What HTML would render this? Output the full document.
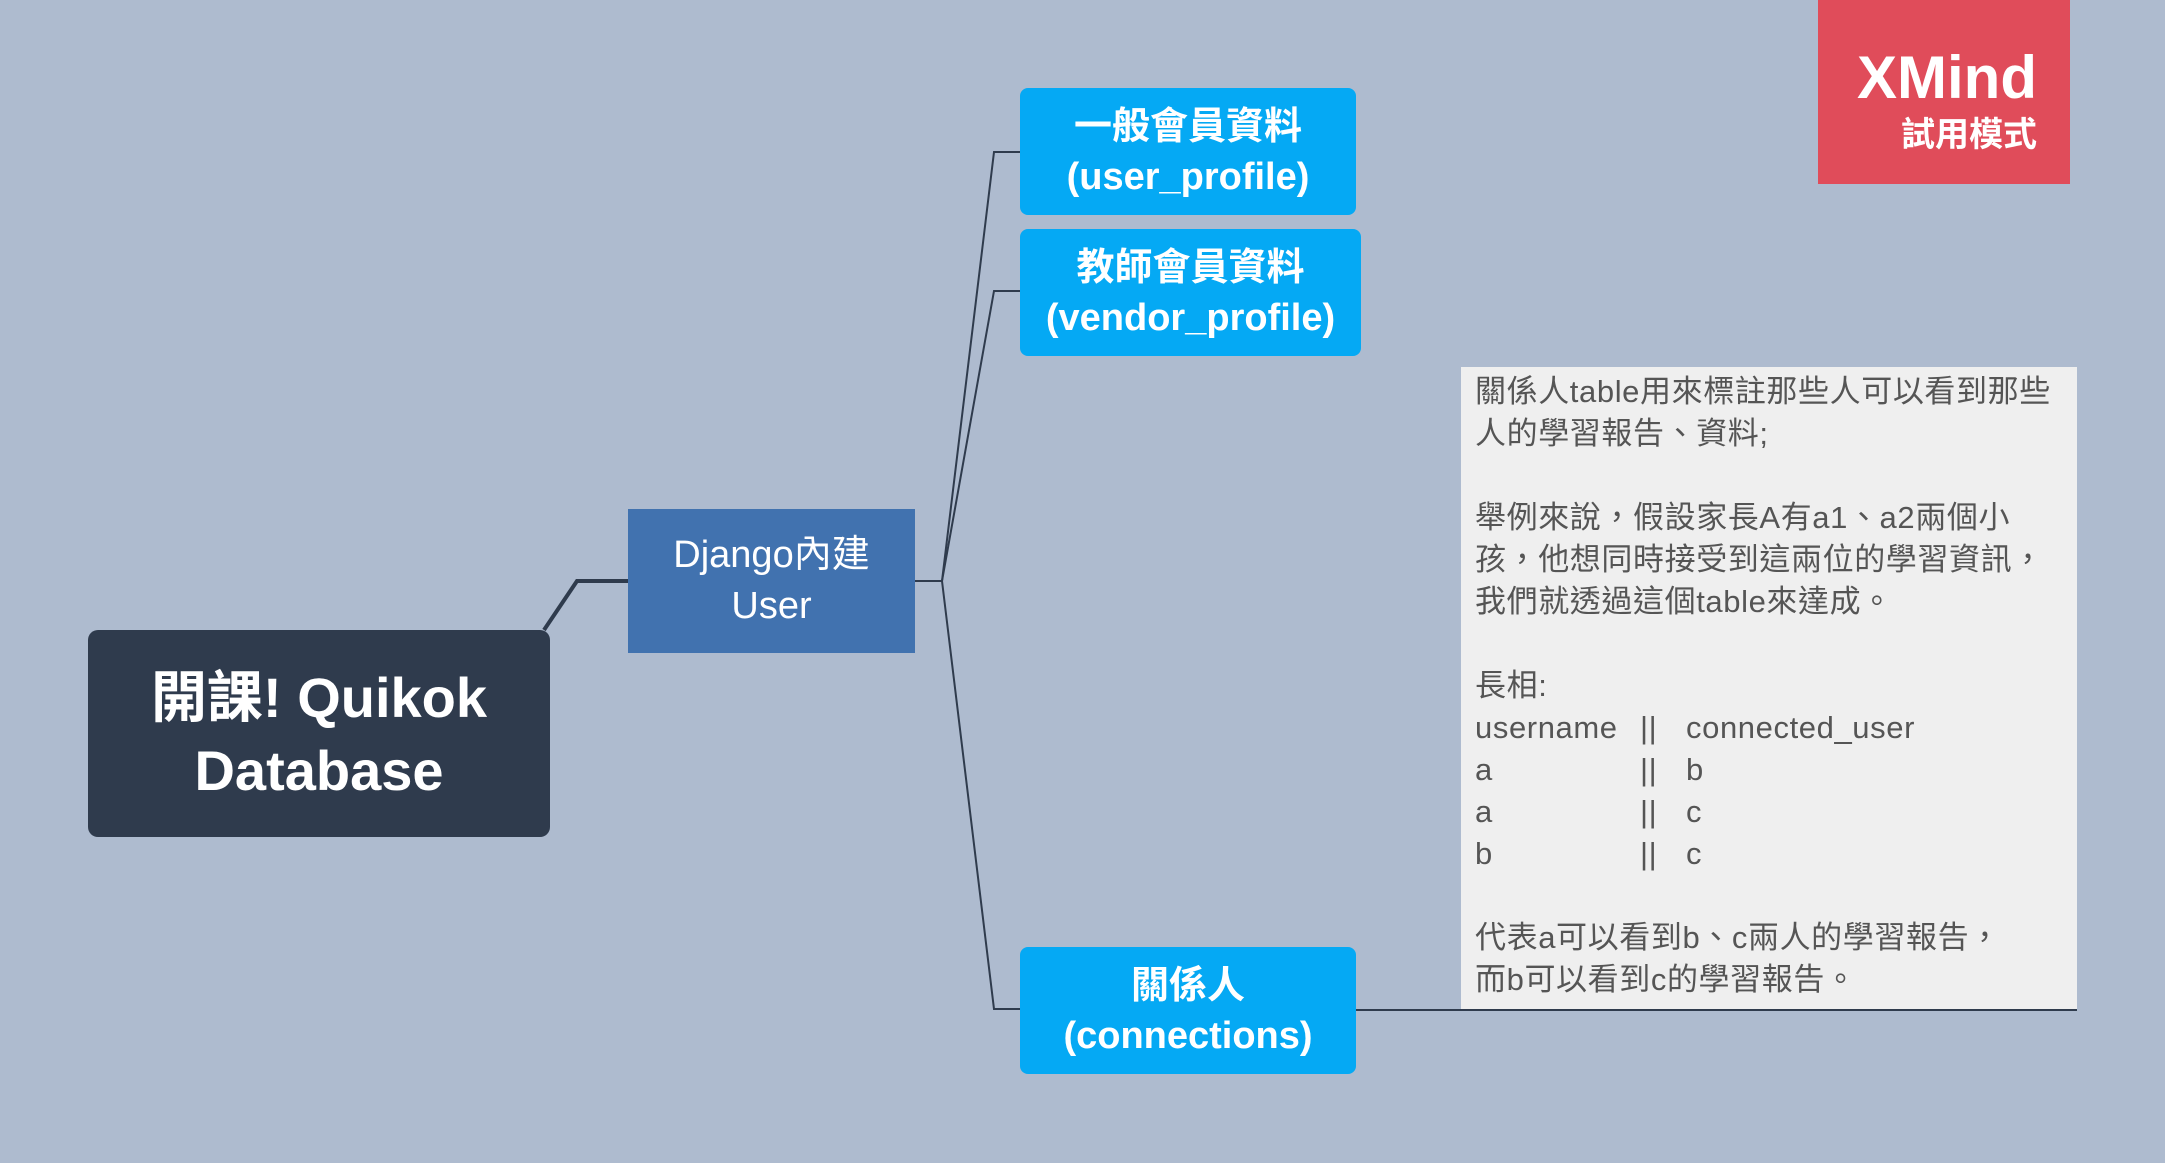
<!DOCTYPE html>
<html><head><meta charset="utf-8"><style>
body{margin:0;width:2165px;height:1163px;background:#aebbcf;position:relative;overflow:hidden;font-family:"Liberation Sans","Noto Sans CJK TC",sans-serif}
.n{position:absolute;display:flex;align-items:center;justify-content:center;text-align:center;color:#fff;box-sizing:border-box}
.b{background:#05a9f4;border-radius:8px;font-weight:bold;font-size:38px;line-height:50px}
.note{position:absolute;left:1461px;top:367px;width:616px;height:642px;background:#efefef;box-sizing:border-box;padding:4px 0 0 14px;color:#555;font-size:31px;letter-spacing:0.6px;line-height:42px;white-space:nowrap}
.c1{display:inline-block;width:165px}.c2{display:inline-block;width:46px}
</style></head><body>
<svg width="2165" height="1163" style="position:absolute;left:0;top:0">
<g fill="none" stroke="#2f3b4d" stroke-width="2">
<polyline points="544,630 577,581 628,581" stroke-width="4"/>
<polyline points="915,581 942,581"/>
<polyline points="942,581 994,152 1020,152"/>
<polyline points="942,581 994,291 1020,291"/>
<polyline points="942,581 994,1009 1020,1009"/>
<line x1="1356" y1="1010" x2="2077" y2="1010"/>
</g></svg>
<div class="n" style="left:88px;top:630px;width:462px;height:207px;background:#2f3b4d;border-radius:10px;font-weight:bold;font-size:56px;line-height:73px">開課! Quikok<br>Database</div>
<div class="n" style="left:628px;top:509px;width:287px;height:144px;background:#4172af;font-size:38px;line-height:51px">Django內建<br>User</div>
<div class="n b" style="left:1020px;top:88px;width:336px;height:127px">一般會員資料<br>(user_profile)</div>
<div class="n b" style="left:1020px;top:229px;width:341px;height:127px">教師會員資料<br>(vendor_profile)</div>
<div class="n b" style="left:1020px;top:947px;width:336px;height:127px">關係人<br>(connections)</div>
<div class="note">關係人table用來標註那些人可以看到那些<br>人的學習報告、資料;<br><br>舉例來說，假設家長A有a1、a2兩個小<br>孩，他想同時接受到這兩位的學習資訊，<br>我們就透過這個table來達成。<br><br>長相:<br><span class="c1">username</span><span class="c2">||</span>connected_user<br><span class="c1">a</span><span class="c2">||</span>b<br><span class="c1">a</span><span class="c2">||</span>c<br><span class="c1">b</span><span class="c2">||</span>c<br><br>代表a可以看到b、c兩人的學習報告，<br>而b可以看到c的學習報告。</div>
<div style="position:absolute;left:1818px;top:0;width:252px;height:184px;background:#e04c5a;color:#fff;text-align:right;box-sizing:border-box;padding-right:33px">
<div style="font-weight:bold;font-size:60px;line-height:60px;margin-top:48px">XMind</div>
<div style="font-weight:bold;font-size:34px;line-height:42px;margin-top:6px">試用模式</div></div>
</body></html>
